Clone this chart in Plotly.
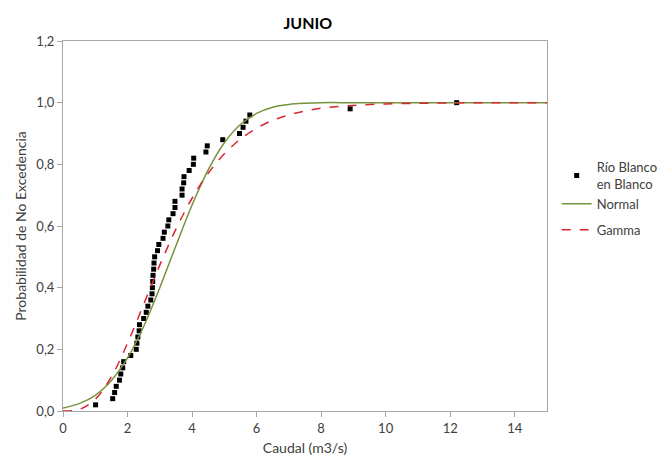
import plotly.graph_objects as go

# observed points (caudal, probabilidad de no excedencia)
obs_q = [1.01, 1.54, 1.60, 1.65, 1.75, 1.79, 1.85, 1.88, 2.10, 2.27,
         2.29, 2.32, 2.36, 2.37, 2.50, 2.58, 2.63, 2.72, 2.76, 2.77,
         2.78, 2.79, 2.81, 2.82, 2.84, 2.93, 2.97, 3.10, 3.14, 3.25,
         3.28, 3.41, 3.47, 3.47, 3.69, 3.69, 3.74, 3.75, 3.91, 4.04,
         4.05, 4.43, 4.47, 4.95, 5.47, 5.58, 5.67, 5.79, 8.90, 12.20]
obs_p = [0.02, 0.04, 0.06, 0.08, 0.10, 0.12, 0.14, 0.16, 0.18, 0.20,
         0.22, 0.24, 0.26, 0.28, 0.30, 0.32, 0.34, 0.36, 0.38, 0.40,
         0.42, 0.44, 0.46, 0.48, 0.50, 0.52, 0.54, 0.56, 0.58, 0.60,
         0.62, 0.64, 0.66, 0.68, 0.70, 0.72, 0.74, 0.76, 0.78, 0.80,
         0.82, 0.84, 0.86, 0.88, 0.90, 0.92, 0.94, 0.96, 0.98, 1.00]

# curves
curve_q = [0, 0.5, 1, 1.5, 2, 2.5, 3, 3.5, 4, 4.5, 5, 5.5, 6, 6.5, 7, 7.5,
           8, 9, 10, 11, 12, 13, 14, 15]
normal_p = [0.010, 0.024, 0.051, 0.099, 0.172, 0.274, 0.400, 0.536, 0.668, 0.782,
            0.870, 0.929, 0.965, 0.985, 0.994, 0.998, 1.0, 1.0, 1.0, 1.0,
            1.0, 1.0, 1.0, 1.0]
gamma_p = [0.0, 0.005, 0.038, 0.111, 0.220, 0.346, 0.473, 0.590, 0.690, 0.771,
           0.834, 0.882, 0.917, 0.943, 0.960, 0.973, 0.982, 0.991, 0.996, 0.998,
           0.999, 1.0, 1.0, 1.0]

fig = go.Figure()

fig.add_trace(go.Scatter(
    x=obs_q, y=obs_p, mode='markers', name='Río Blanco<br>en Blanco',
    marker=dict(symbol='square', size=5, color='black'),
    legendgroup='a'
))
fig.add_trace(go.Scatter(
    x=curve_q, y=normal_p, mode='lines', name='Normal',
    line=dict(color='#77933C', width=1.5, shape='spline'),
    legendgroup='a'
))
fig.add_trace(go.Scatter(
    x=curve_q, y=gamma_p, mode='lines', name='Gamma',
    line=dict(color='#D9262E', width=1.5, dash='dash', shape='spline'),
    legendgroup='b'
))

# page body has an 8px margin, so the figure is a bit smaller than the window
fig.update_layout(
    width=659, height=465,
    margin=dict(l=55, r=120, t=33, b=62, autoexpand=False),
    paper_bgcolor='white', plot_bgcolor='white',
    font=dict(family='Lato, Open Sans, sans-serif', size=13, color='#404040'),
    separators=',.',
    title=dict(text='<b>JUNIO</b>', x=0.455, xanchor='center', y=0.98, yanchor='top',
               font=dict(size=16, color='black')),
    legend=dict(x=1.02, y=0.70, xanchor='left', yanchor='top',
                tracegroupgap=6, traceorder='grouped',
                font=dict(size=13, color='#404040')),
)

fig.update_xaxes(
    range=[0, 15], tickvals=[0, 2, 4, 6, 8, 10, 12, 14],
    showgrid=False, zeroline=False,
    showline=True, linecolor='#A6A6A6', mirror=True,
    ticks='outside', ticklen=5, tickcolor='#A6A6A6',
    title=dict(text='Caudal (m3/s)', font=dict(size=14), standoff=8)
)
fig.update_yaxes(
    range=[0, 1.2], tickvals=[0, 0.2, 0.4, 0.6, 0.8, 1.0, 1.2], tickformat='.1f',
    showgrid=False, zeroline=False,
    showline=True, linecolor='#A6A6A6', mirror=True,
    ticks='outside', ticklen=5, tickcolor='#A6A6A6',
    title=dict(text='Probabilidad de No Excedencia', font=dict(size=14), standoff=6)
)

fig.write_html("out.html")
